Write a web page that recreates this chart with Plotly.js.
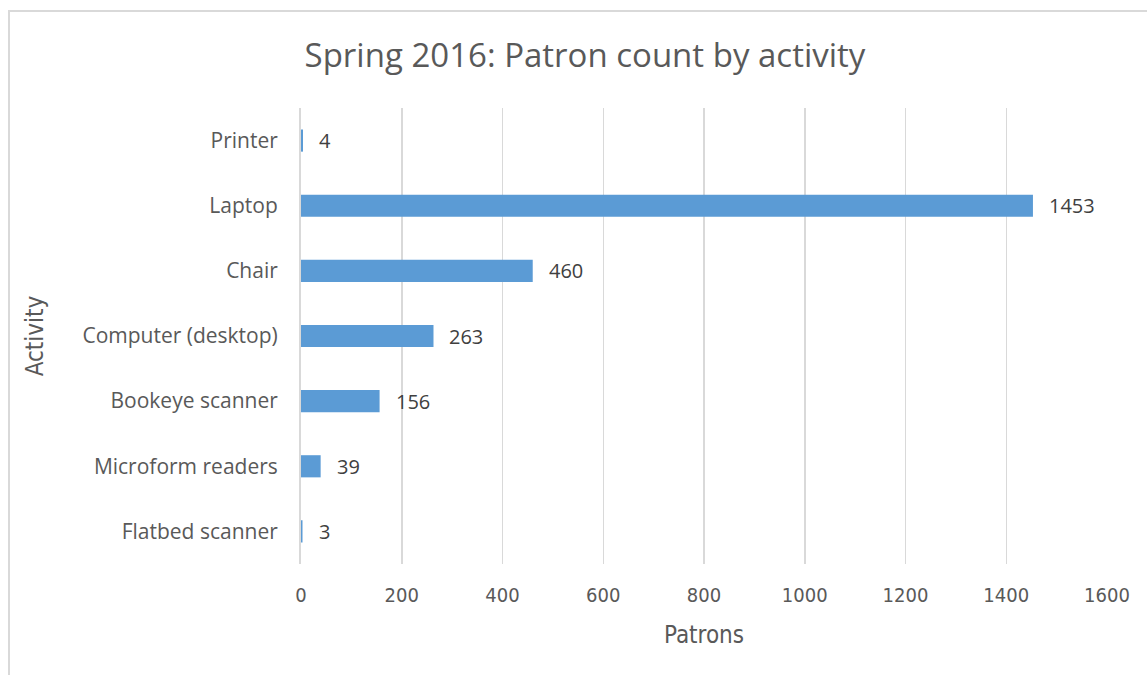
<!DOCTYPE html>
<html>
<head>
<meta charset="utf-8">
<script src="https://cdn.plot.ly/plotly-3.0.1.min.js"></script>
<style>
  html, body { margin: 0; padding: 0; background: #fff; overflow: hidden; }
  #chart { width: 1147px; height: 675px; position: absolute; left: 0; top: 0; }
  #frame { position: absolute; left: 8px; top: 10px; width: 1200px; height: 700px;
           border-left: 2px solid #d9d9d9; border-top: 2px solid #d9d9d9; pointer-events: none; }
</style>
</head>
<body>
<div id="chart"></div>
<div id="frame"></div>
<script>
const categories = ["Flatbed scanner", "Microform readers", "Bookeye scanner", "Computer (desktop)", "Chair", "Laptop", "Printer"];
const patrons = [3, 39, 156, 263, 460, 1453, 4];
const xTicks = [0, 200, 400, 600, 800, 1000, 1200, 1400, 1600];

const narrow = "DejaVu Sans Condensed, Liberation Sans, sans-serif";

const trace = {
  type: "bar",
  orientation: "h",
  y: categories,
  x: patrons,
  width: 0.34,
  marker: { color: "#5B9BD5" },
  hoverinfo: "x+y"
};

const labels = categories.map((c, i) => ({
  x: patrons[i], y: c, xref: "x", yref: "y",
  text: String(patrons[i]), showarrow: false,
  xanchor: "left", xshift: 14,
  font: { family: "Open Sans", size: 20, color: "#404040" }
}));

const layout = {
  width: 1147, height: 675,
  margin: { l: 301, r: 40, t: 108, b: 111 },
  paper_bgcolor: "rgba(0,0,0,0)",
  plot_bgcolor: "#fff",
  showlegend: false,
  title: {
    text: "Spring 2016: Patron count by activity",
    x: 0.51, xanchor: "center", y: 0.918, yanchor: "middle",
    font: { family: "Open Sans", size: 33, color: "#595959" }
  },
  xaxis: {
    range: [0, 1600],
    tickvals: xTicks,
    ticktext: xTicks.map(String),
    showgrid: true, gridcolor: "#d9d9d9", gridwidth: 1.5,
    zeroline: false, showline: false,
    ticks: "", ticklen: 0, ticklabelstandoff: 17,
    tickfont: { family: narrow, size: 20, color: "#595959" },
    title: { text: "Patrons", standoff: 20,
             font: { family: narrow, size: 24, color: "#595959" } }
  },
  yaxis: {
    type: "category",
    categoryorder: "array", categoryarray: categories,
    showline: true, linecolor: "#d9d9d9", linewidth: 2,
    showgrid: false, zeroline: false,
    ticks: "", ticklen: 0, ticklabelstandoff: 17,
    tickfont: { family: "Open Sans", size: 21, color: "#595959" },
    title: { text: "Activity", standoff: 32,
             font: { family: narrow, size: 24, color: "#595959" } }
  },
  annotations: labels
};

Plotly.newPlot("chart", [trace], layout, { displayModeBar: false, staticPlot: true });
</script>
</body>
</html>
